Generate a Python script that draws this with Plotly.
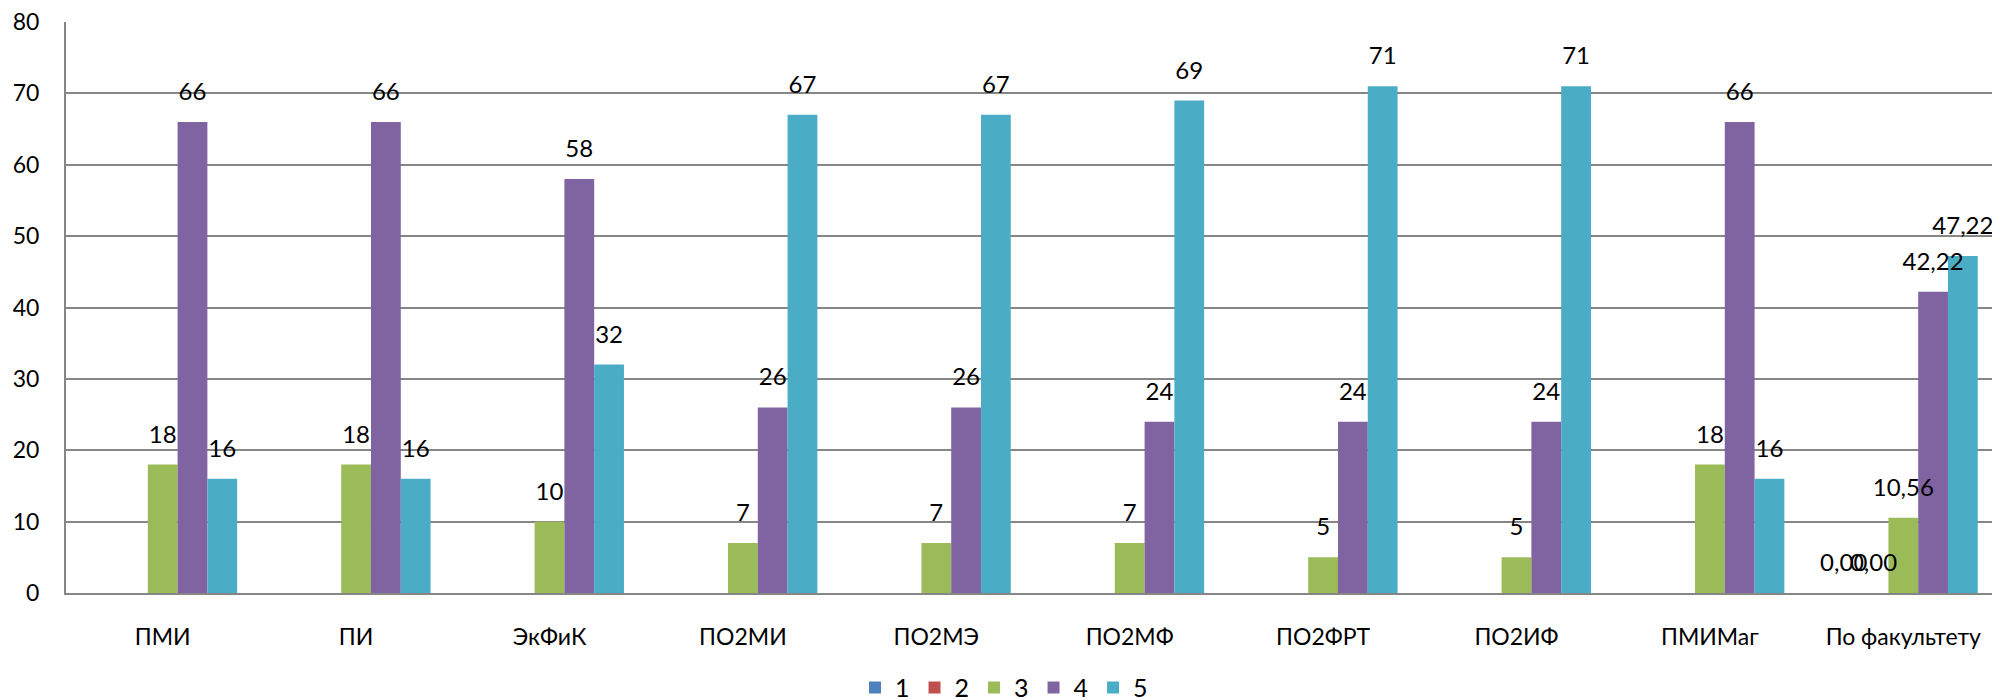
import plotly.graph_objects as go

categories = ["ПМИ", "ПИ", "ЭкФиК", "ПО2МИ", "ПО2МЭ", "ПО2МФ", "ПО2ФРТ", "ПО2ИФ", "ПМИМаг", "По факультету"]
series_names = ["1", "2", "3", "4", "5"]
s1 = [None, None, None, None, None, None, None, None, None, 0.00]
s2 = [None, None, None, None, None, None, None, None, None, 0.00]
s3 = [18, 18, 10, 7, 7, 7, 5, 5, 18, 10.56]
s4 = [66, 66, 58, 26, 26, 24, 24, 24, 66, 42.22]
s5 = [16, 16, 32, 67, 67, 69, 71, 71, 16, 47.22]
y_ticks = [0, 10, 20, 30, 40, 50, 60, 70, 80]

colors = ["#4F81BD", "#C0504D", "#9BBB59", "#8064A2", "#4BACC6"]
FONT = "Lato, 'Open Sans', sans-serif"
GAP = 0.23


def fmt(v, cat):
    if v is None:
        return ""
    if cat == "По факультету":
        return f"{v:.2f}".replace(".", ",")
    return f"{v:g}"


fig = go.Figure()
all_series = [s1, s2, s3, s4, s5]
for name, vals, col in zip(series_names, all_series, colors):
    fig.add_trace(go.Bar(
        name=name,
        x=categories,
        y=vals,
        offsetgroup=name,
        marker=dict(color=col, line=dict(width=0)),
        hoverinfo="x+y+name",
    ))

# data labels drawn above all bars
for name, vals in zip(series_names, all_series):
    fig.add_trace(go.Scatter(
        name=name,
        x=categories,
        y=vals,
        offsetgroup=name,
        mode="markers+text",
        marker=dict(size=24, color="rgba(0,0,0,0)"),
        text=[fmt(v, c) for v, c in zip(vals, categories)],
        textposition="top center",
        textfont=dict(family=FONT, size=24, color="#000000"),
        cliponaxis=False,
        showlegend=False,
        hoverinfo="skip",
    ))

fig.update_layout(
    width=1992,
    height=700,
    barmode="group",
    bargap=GAP,
    bargroupgap=0,
    scattermode="group",
    scattergap=GAP,
    paper_bgcolor="white",
    plot_bgcolor="white",
    margin=dict(l=58, r=0, t=14, b=115, autoexpand=False),
    font=dict(family=FONT, size=23, color="#000000"),
    showlegend=True,
    legend=dict(
        orientation="h",
        xref="container",
        x=0.5, xanchor="center",
        y=-0.166, yanchor="middle",
        font=dict(family=FONT, size=25, color="#000000"),
        itemwidth=30,
        traceorder="normal",
    ),
    xaxis=dict(
        type="category",
        showgrid=False,
        showline=True,
        linecolor="#868686",
        linewidth=2,
        ticks="",
        ticklabelstandoff=22,
        ticklabeloverflow="allow",
        tickfont=dict(family=FONT, size=23, color="#000000"),
    ),
    yaxis=dict(
        range=[0, 80],
        tickvals=y_ticks,
        showgrid=True,
        gridcolor="#868686",
        gridwidth=2,
        showline=True,
        linecolor="#868686",
        linewidth=2,
        zeroline=False,
        ticks="",
        ticklabelstandoff=20,
        ticklabeloverflow="allow",
        tickfont=dict(family=FONT, size=23, color="#000000"),
    ),
)

fig.write_html("out.html")
